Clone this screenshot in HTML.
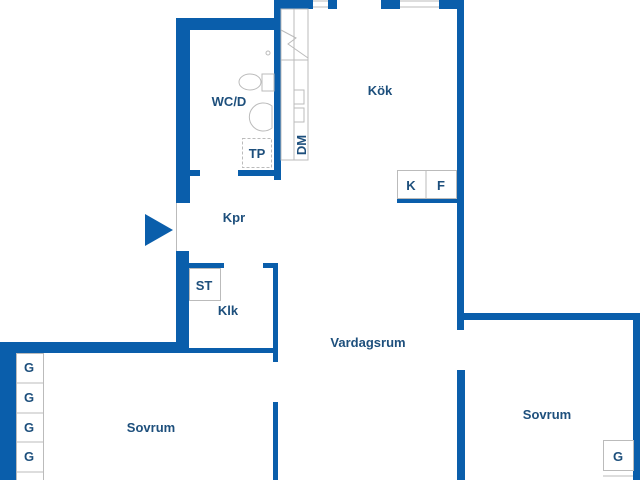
<!DOCTYPE html>
<html><head><style>
html,body{margin:0;padding:0;background:#fff;width:640px;height:480px;overflow:hidden}
text{font-family:"Liberation Sans",sans-serif;font-weight:bold;fill:#1d4f7c;font-size:13px}
</style></head><body>
<svg width="640" height="480" viewBox="0 0 640 480" xmlns="http://www.w3.org/2000/svg">
<g fill="#0a5eab">
<!-- top walls -->
<rect x="275" y="0" width="38" height="9"/>
<rect x="328" y="0" width="9" height="9"/>
<rect x="381" y="0" width="19" height="9"/>
<rect x="439" y="0" width="25" height="9"/>
<!-- kitchen right wall -->
<rect x="457" y="0" width="7" height="330"/>
<rect x="457" y="313" width="183" height="7"/>
<rect x="633" y="313" width="7" height="167"/>
<rect x="457" y="370" width="8" height="110"/>
<!-- WC -->
<rect x="176" y="18" width="104" height="12"/>
<rect x="176" y="18" width="14" height="185"/>
<rect x="274" y="0" width="7" height="180"/>
<rect x="190" y="170" width="10" height="6"/>
<rect x="238" y="170" width="40" height="6"/>
<!-- K/F bottom -->
<rect x="397" y="198" width="60" height="5"/>
<!-- Klk -->
<rect x="176" y="251" width="13" height="102"/>
<rect x="189" y="263" width="35" height="5"/>
<rect x="263" y="263" width="15" height="5"/>
<rect x="273" y="263" width="5" height="99"/>
<rect x="0" y="342" width="189" height="11"/>
<rect x="189" y="348" width="84" height="5"/>
<rect x="0" y="342" width="16" height="138"/>
<rect x="273" y="402" width="5" height="78"/>
<!-- arrow -->
<polygon points="145,214 173,230 145,246"/>
</g>
<g fill="none" stroke="#bbb" stroke-width="1">
<line x1="313" y1="1" x2="328" y2="1"/><line x1="313" y1="7" x2="328" y2="7"/>
<line x1="400" y1="1" x2="439" y2="1"/><line x1="400" y1="7" x2="439" y2="7"/>
<line x1="176.5" y1="203" x2="176.5" y2="251"/>
<rect x="281" y="9" width="27" height="151"/>
<line x1="294" y1="9" x2="294" y2="160"/>
<line x1="281" y1="60" x2="308" y2="60"/>
<rect x="294" y="90" width="10" height="14"/>
<rect x="294" y="108" width="10" height="14"/>
<polyline points="281,30 296,38 288,44 308,58"/>
<rect x="397.5" y="170.5" width="59" height="28"/><line x1="426" y1="170" x2="426" y2="198"/>
<rect x="189.5" y="268.5" width="31" height="32"/>
<rect x="16.5" y="353.5" width="27" height="130"/>
<line x1="16" y1="383" x2="43" y2="383"/><line x1="16" y1="413" x2="43" y2="413"/>
<line x1="16" y1="442" x2="43" y2="442"/><line x1="16" y1="472" x2="43" y2="472"/>
<rect x="603.5" y="440.5" width="30" height="30"/><line x1="603" y1="476" x2="633" y2="476"/>
<rect x="242.5" y="138.5" width="29" height="29" stroke-dasharray="3,2"/>
<ellipse cx="250" cy="82" rx="11" ry="8"/>
<rect x="262" y="74" width="12" height="17"/>
<path d="M272 106 a14 14 0 1 0 0 22 z"/>
<circle cx="268" cy="53" r="2"/>
</g>
<text x="229" y="106" text-anchor="middle">WC/D</text>
<text x="257" y="158" text-anchor="middle">TP</text>
<text x="380" y="95" text-anchor="middle">Kök</text>
<text x="306" y="145" text-anchor="middle" transform="rotate(-90 306 145)">DM</text>
<text x="411" y="190" text-anchor="middle">K</text>
<text x="441" y="190" text-anchor="middle">F</text>
<text x="234" y="222" text-anchor="middle">Kpr</text>
<text x="204" y="290" text-anchor="middle">ST</text>
<text x="228" y="315" text-anchor="middle">Klk</text>
<text x="368" y="347" text-anchor="middle">Vardagsrum</text>
<text x="151" y="432" text-anchor="middle">Sovrum</text>
<text x="547" y="419" text-anchor="middle">Sovrum</text>
<text x="29" y="372" text-anchor="middle">G</text>
<text x="29" y="402" text-anchor="middle">G</text>
<text x="29" y="432" text-anchor="middle">G</text>
<text x="29" y="461" text-anchor="middle">G</text>
<text x="618" y="461" text-anchor="middle">G</text>
</svg>
</body></html>
